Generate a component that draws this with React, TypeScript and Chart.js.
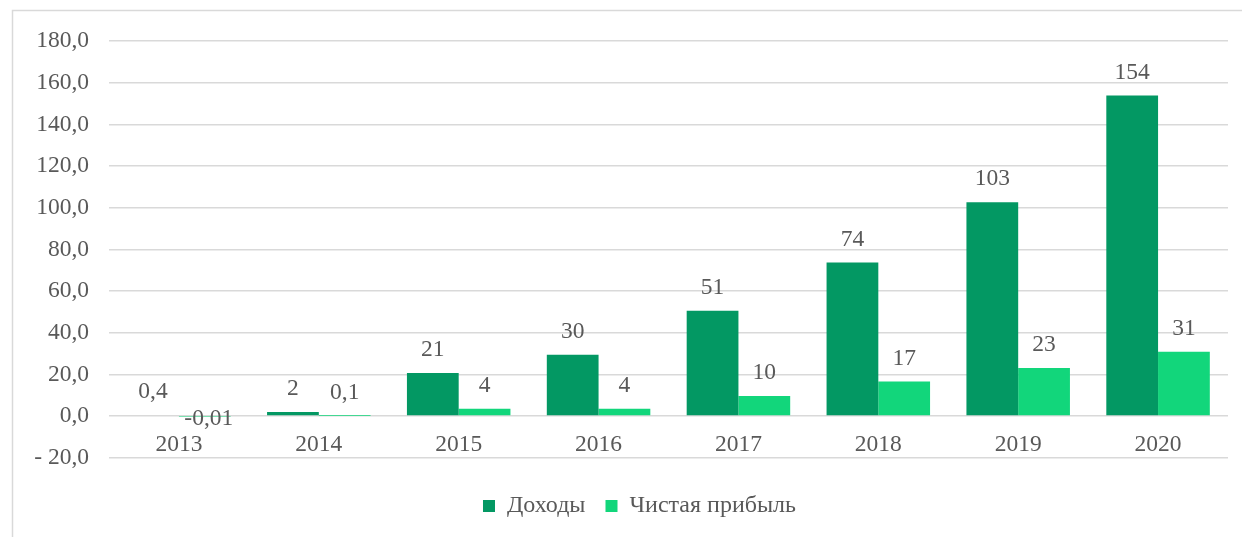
import React, { useEffect, useRef } from "react";
import { Chart, registerables } from "chart.js";

Chart.register(...registerables);

const categories = ["2013", "2014", "2015", "2016", "2017", "2018", "2019", "2020"];
const revenue = [0.4, 2, 20.7, 29.4, 50.6, 73.7, 102.6, 153.8];
const revenueLabels = ["0,4", "2", "21", "30", "51", "74", "103", "154"];
const profit = [-0.01, 0.1, 3.5, 3.5, 9.6, 16.6, 23.1, 30.9];
const profitLabels = ["-0,01", "0,1", "4", "4", "10", "17", "23", "31"];
const seriesNames = ["Доходы", "Чистая прибыль"];

const FONT = "'Liberation Serif', 'Times New Roman', serif";
const TEXT = "#595959";
const SIZE = 23.5;

const fmt = (v: number) => {
  const s = Math.abs(v).toFixed(1).replace(".", ",");
  return v < 0 ? "- " + s : s;
};

const framePlugin = {
  id: "frame",
  afterLayout(chart: any) {
    if (chart.legend) {
      chart.legend.left = 51;
    }
  },
  beforeDraw(chart: any) {
    const ctx = chart.ctx;
    ctx.save();
    ctx.strokeStyle = "#d9d9d9";
    ctx.lineWidth = 1.5;
    ctx.beginPath();
    ctx.moveTo(12.5, chart.height + 5);
    ctx.lineTo(12.5, 10.5);
    ctx.lineTo(chart.width + 5, 10.5);
    ctx.stroke();
    ctx.restore();
  },
};

const labelPlugin = {
  id: "valueLabels",
  afterDatasetsDraw(chart: any) {
    const ctx = chart.ctx;
    const allLabels = [revenueLabels, profitLabels];
    ctx.save();
    ctx.font = `${SIZE}px ${FONT}`;
    ctx.fillStyle = TEXT;
    ctx.textAlign = "center";
    ctx.textBaseline = "alphabetic";
    chart.data.datasets.forEach((ds: any, di: number) => {
      const meta = chart.getDatasetMeta(di);
      meta.data.forEach((el: any, i: number) => {
        const v = ds.data[i];
        const txt = allLabels[di][i];
        if (v >= 0) {
          ctx.fillText(txt, el.x, el.y - 17);
        } else {
          ctx.fillText(txt, el.x + 4, el.base + 8);
        }
      });
    });
    ctx.restore();
  },
};

export default function App() {
  const ref = useRef<HTMLCanvasElement | null>(null);
  useEffect(() => {
    if (!ref.current) return;
    const chart = new Chart(ref.current, {
      type: "bar",
      data: {
        labels: categories,
        datasets: [
          {
            label: seriesNames[0],
            data: revenue,
            backgroundColor: "#039863",
            categoryPercentage: 0.74,
            barPercentage: 1,
          },
          {
            label: seriesNames[1],
            data: profit,
            backgroundColor: "#12D67B",
            categoryPercentage: 0.74,
            barPercentage: 1,
          },
        ],
      },
      options: {
        animation: false,
        responsive: true,
        maintainAspectRatio: false,
        layout: { padding: { top: 41, right: 14, bottom: 9, left: 0 } },
        plugins: {
          tooltip: { enabled: false },
          legend: {
            position: "bottom",
            title: {
              display: true,
              text: " ",
              font: { size: 1 },
              padding: { top: 15, bottom: 0 },
            },
            labels: {
              boxWidth: 12,
              boxHeight: 12,
              padding: 20,
              color: TEXT,
              font: { family: FONT, size: 24 },
            },
          },
        },
        scales: {
          x: {
            position: { y: 0 } as any,
            grid: { display: false, drawTicks: false },
            border: { display: false },
            ticks: {
              color: TEXT,
              font: { family: FONT, size: SIZE },
              padding: 15,
            },
          },
          y: {
            min: -20,
            max: 180,
            afterFit: (scale: any) => {
              scale.width = 109;
            },
            grid: { color: "#d9d9d9", lineWidth: 1.5, drawTicks: false },
            border: { display: false },
            ticks: {
              stepSize: 20,
              color: TEXT,
              font: { family: FONT, size: SIZE },
              padding: 20,
              callback: (v: any) => fmt(Number(v)),
            },
          },
        },
      },
      plugins: [framePlugin, labelPlugin],
    });
    return () => chart.destroy();
  }, []);
  return (
    <div style={{ position: "fixed", left: 0, top: 0, width: 1242, height: 537, background: "#fff" }}>
      <canvas ref={ref} />
    </div>
  );
}
